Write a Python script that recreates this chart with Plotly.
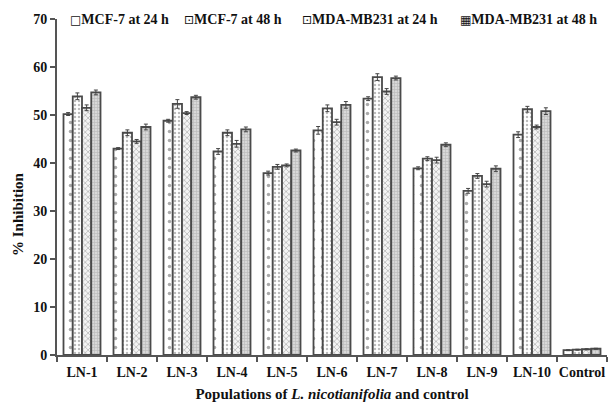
import plotly.graph_objects as go

categories = ["LN-1", "LN-2", "LN-3", "LN-4", "LN-5", "LN-6", "LN-7", "LN-8", "LN-9", "LN-10", "Control"]
series_names = ["MCF-7 at 24 h", "MCF-7 at 48 h", "MDA-MB231 at 24 h", "MDA-MB231 at 48 h"]
legend_glyphs = ["□", "⊡", "⊡", "▦"]

mcf7_24 = [50.2, 43.0, 48.8, 42.4, 37.9, 46.8, 53.4, 38.9, 34.2, 45.9, 1.0]
mcf7_48 = [53.9, 46.3, 52.3, 46.3, 39.2, 51.4, 57.9, 40.9, 37.3, 51.2, 1.1]
mda_24 = [51.5, 44.5, 50.4, 44.0, 39.5, 48.5, 54.9, 40.6, 35.6, 47.5, 1.2]
mda_48 = [54.7, 47.5, 53.7, 47.0, 42.6, 52.1, 57.7, 43.8, 38.8, 50.8, 1.3]

err_mcf7_24 = [0.3, 0.2, 0.3, 0.6, 0.4, 0.8, 0.4, 0.3, 0.5, 0.6, 0.1]
err_mcf7_48 = [0.7, 0.6, 0.9, 0.6, 0.5, 0.7, 0.7, 0.4, 0.5, 0.6, 0.1]
err_mda_24 = [0.6, 0.4, 0.3, 0.7, 0.3, 0.6, 0.6, 0.6, 0.6, 0.4, 0.1]
err_mda_48 = [0.5, 0.6, 0.4, 0.5, 0.3, 0.7, 0.4, 0.4, 0.6, 0.7, 0.1]

values = [mcf7_24, mcf7_48, mda_24, mda_48]
errors = [err_mcf7_24, err_mcf7_48, err_mda_24, err_mda_48]

patterns = [
    dict(shape=".", size=9, solidity=0.12, fgcolor="#555555", bgcolor="white"),
    dict(shape=".", size=4, solidity=0.3, fgcolor="#777777", bgcolor="white"),
    dict(shape="x", size=4, solidity=0.35, fgcolor="#777777", bgcolor="#f4f4f4"),
    dict(shape="+", size=3, solidity=0.35, fgcolor="#999999", bgcolor="#d8d8d8"),
]

FONT = "Liberation Serif"
W, H = 608, 408
ML, MR, MT, MB = 57, 1, 19, 53
legend_px = [69, 183, 301, 459]  # left edge of each legend entry (pixels)

fig = go.Figure()
for name, vals, errs, pat in zip(series_names, values, errors, patterns):
    fig.add_trace(go.Bar(
        name=name, x=categories, y=vals,
        marker=dict(color=pat["bgcolor"], pattern=pat,
                    line=dict(color="#4a4a4a", width=1.8)),
        error_y=dict(type="data", array=errs, visible=True,
                     color="#444444", thickness=1, width=2),
    ))

plot_w = W - ML - MR
plot_h = H - MT - MB
for name, glyph, px in zip(series_names, legend_glyphs, legend_px):
    fig.add_annotation(
        xref="paper", yref="paper", x=(px - ML) / plot_w, y=1.0,
        xanchor="left", yanchor="middle", showarrow=False, borderpad=0,
        text=f"<span style='font-family:DejaVu Sans;font-size:12px;font-weight:normal'>{glyph}</span>{name}",
        font=dict(family=FONT, size=14, color="#111111", weight="bold"),
    )

# y-axis title (placed slightly below the axis centre, as in the original)
fig.add_annotation(
    xref="paper", yref="paper", x=(18 - ML) / plot_w, y=(H - MB - 214) / plot_h,
    xanchor="center", yanchor="middle", showarrow=False, textangle=-90,
    text="% Inhibition", font=dict(family=FONT, size=15, color="#111111", weight="bold"),
)

fig.update_layout(
    width=W, height=H,
    paper_bgcolor="white", plot_bgcolor="white",
    margin=dict(l=ML, r=MR, t=MT, b=MB, autoexpand=False),
    barmode="group", bargap=0.26, bargroupgap=0.0,
    font=dict(family=FONT, size=14, color="#111111", weight="bold"),
    showlegend=False,
)
fig.update_xaxes(
    showline=True, linecolor="#555555", linewidth=2,
    ticks="outside", tickson="boundaries", ticklen=5, tickcolor="#555555", tickwidth=2,
    tickangle=0, ticklabelstandoff=3,
    tickfont=dict(family=FONT, size=14, weight="bold"),
    title=dict(text="Populations of <i>L. nicotianifolia</i> and control",
               font=dict(family=FONT, size=15, weight="bold"), standoff=10),
    showgrid=False,
)
fig.update_yaxes(
    range=[0, 70], dtick=10,
    showline=True, linecolor="#555555", linewidth=2,
    ticks="outside", ticklen=5, tickcolor="#555555", tickwidth=2,
    tickfont=dict(family=FONT, size=14, weight="bold"),
    showgrid=False, zeroline=False,
)

fig.write_html("out.html", config={"displayModeBar": False},
               post_script="document.body.style.margin='0';")
